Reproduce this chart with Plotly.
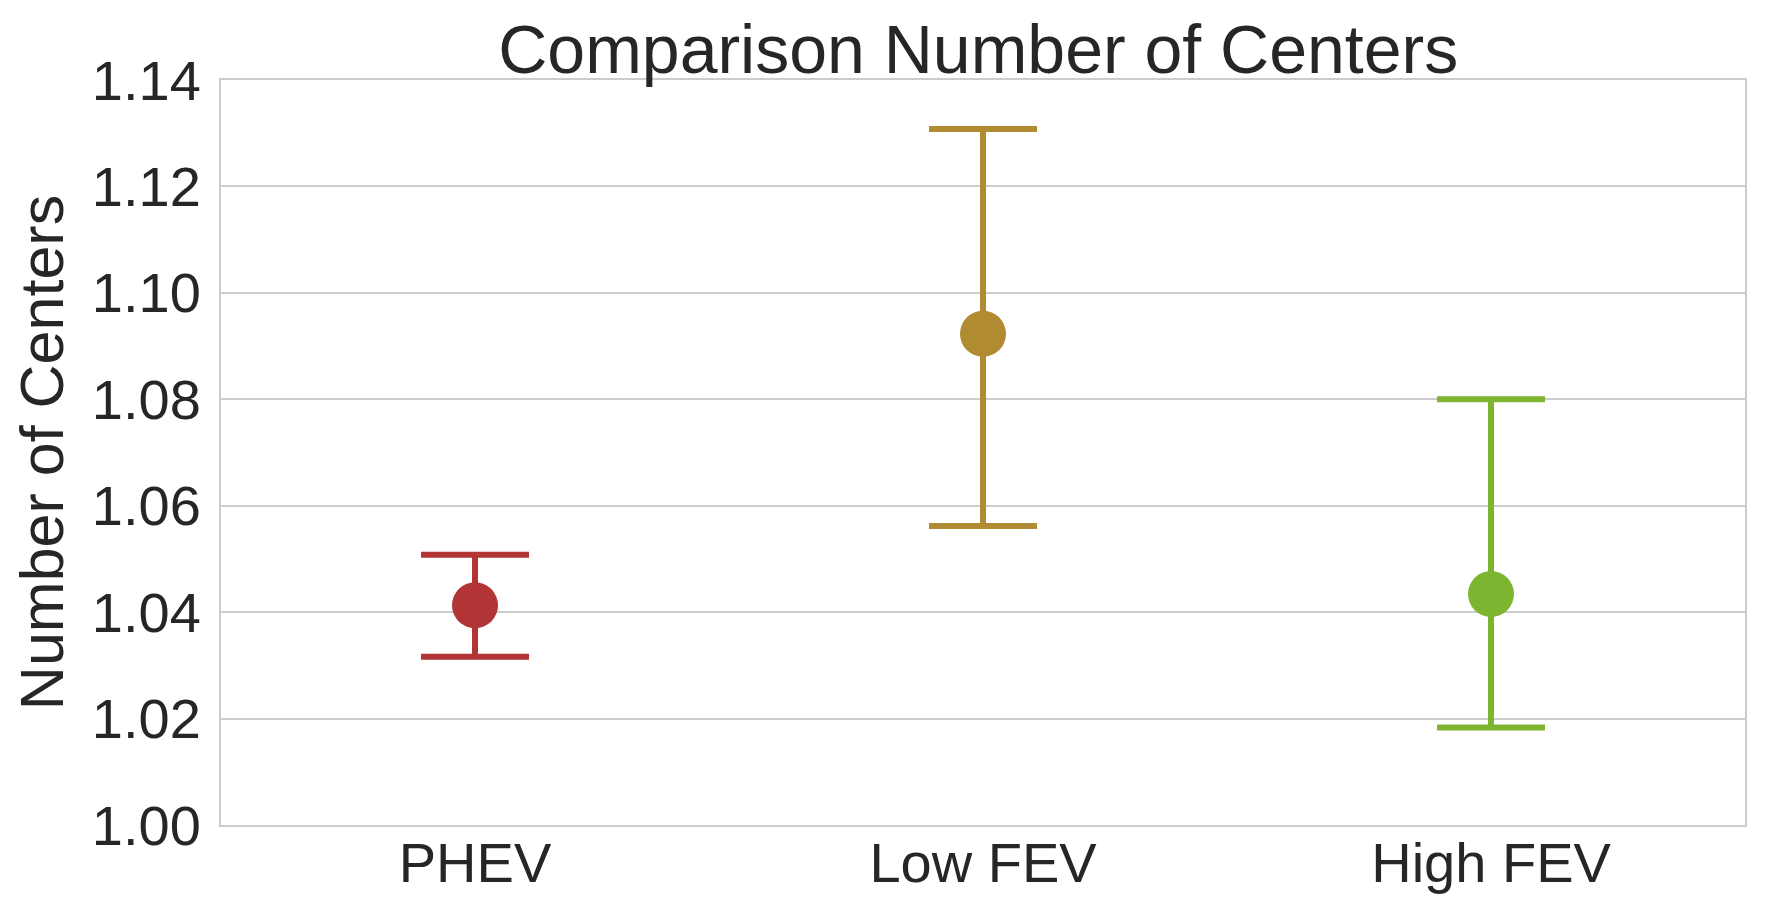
import plotly.graph_objects as go

categories = ["PHEV", "Low FEV", "High FEV"]
means = [1.0413, 1.0923, 1.0434]
upper = [1.0508, 1.1308, 1.0800]
lower = [1.0316, 1.0562, 1.0183]
colors = ["#B23434", "#B08B31", "#7DB430"]
y_ticks = [1.00, 1.02, 1.04, 1.06, 1.08, 1.10, 1.12, 1.14]

fig = go.Figure()
for i, cat in enumerate(categories):
    fig.add_trace(go.Scatter(
        x=[cat], y=[means[i]], mode="markers",
        marker=dict(size=46, color=colors[i]),
        error_y=dict(type="data", symmetric=False,
                     array=[upper[i] - means[i]], arrayminus=[means[i] - lower[i]],
                     color=colors[i], thickness=6, width=54),
        showlegend=False,
    ))

font = "Liberation Sans, Arial, sans-serif"
fig.update_layout(
    width=1765, height=909,
    margin=dict(l=213, r=28, t=72, b=92),
    paper_bgcolor="white", plot_bgcolor="white",
    font=dict(family=font, color="#262626"),
    title=dict(text="Comparison Number of Centers", x=0.5497, xanchor="center",
               y=0.955, yanchor="middle", font=dict(size=68, color="#262626")),
    xaxis=dict(type="category", categoryorder="array", categoryarray=categories,
               range=[-0.5, 2.5], showgrid=False, zeroline=False,
               showline=True, linecolor="#cccccc", linewidth=2, mirror=True,
               tickfont=dict(size=56), ticks="", ticklabelstandoff=-12),
    yaxis=dict(range=[1.00, 1.14], tickvals=y_ticks,
               ticktext=[f"{v:.2f}" for v in y_ticks],
               showgrid=True, gridcolor="#cccccc", gridwidth=2, zeroline=False,
               showline=True, linecolor="#cccccc", linewidth=2, mirror=True,
               tickfont=dict(size=56), ticks="", ticklabelstandoff=7,
               title=dict(text="Number of Centers", font=dict(size=61), standoff=30)),
)

fig.write_html("out.html")
